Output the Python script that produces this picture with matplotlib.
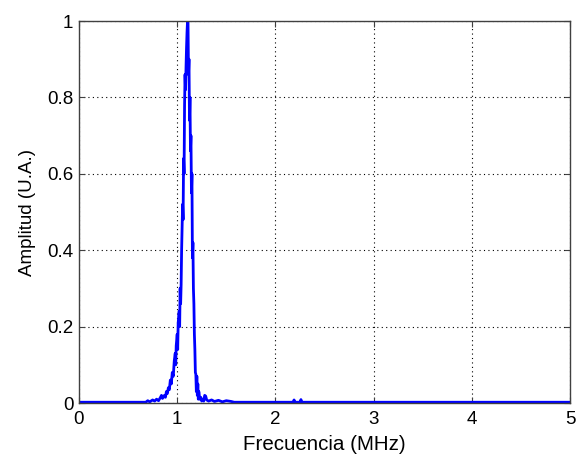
import matplotlib
matplotlib.use("Agg")
import matplotlib.pyplot as plt

freq_mhz = [0.0, 0.5, 0.68, 0.70, 0.72, 0.75, 0.77, 0.79, 0.81, 0.83, 0.84, 0.85,
            0.87, 0.88, 0.89, 0.90, 0.91, 0.92, 0.93, 0.94, 0.95, 0.96, 0.97, 0.98,
            0.985, 0.99, 1.00, 1.005, 1.01, 1.02, 1.025, 1.03, 1.035, 1.04, 1.045,
            1.05, 1.055, 1.06, 1.065, 1.07, 1.075, 1.08, 1.085, 1.09, 1.095, 1.10,
            1.105, 1.11, 1.115, 1.12, 1.125, 1.13, 1.135, 1.14, 1.145, 1.15, 1.155,
            1.16, 1.165, 1.17, 1.175, 1.18, 1.185, 1.19, 1.195, 1.20, 1.205, 1.21,
            1.215, 1.22, 1.23, 1.24, 1.25, 1.26, 1.27, 1.28, 1.29, 1.30, 1.32, 1.35,
            1.38, 1.42, 1.46, 1.50, 1.55, 1.58, 2.18, 2.19, 2.20, 2.25, 2.26, 2.27, 5.0]
amplitude = [0.002, 0.002, 0.002, 0.006, 0.003, 0.008, 0.005, 0.010, 0.006, 0.015, 0.020, 0.012,
             0.020, 0.015, 0.030, 0.025, 0.040, 0.035, 0.060, 0.050, 0.080, 0.070, 0.110, 0.130,
             0.100, 0.150, 0.180, 0.140, 0.210, 0.240, 0.200, 0.300, 0.260, 0.310, 0.400,
             0.460, 0.520, 0.480, 0.640, 0.600, 0.780, 0.860, 0.820, 0.880, 0.930, 0.970,
             1.000, 1.000, 0.860, 0.900, 0.740, 0.800, 0.660, 0.700, 0.550, 0.600, 0.380,
             0.420, 0.300, 0.260, 0.180, 0.140, 0.080, 0.075, 0.030, 0.070, 0.020, 0.050,
             0.010, 0.030, 0.010, 0.015, 0.005, 0.010, 0.005, 0.020, 0.018, 0.008, 0.005, 0.008,
             0.004, 0.007, 0.003, 0.006, 0.004, 0.002, 0.002, 0.008, 0.002, 0.002, 0.009, 0.002, 0.002]

x_ticks = [0, 1, 2, 3, 4, 5]
y_ticks = [0, 0.2, 0.4, 0.6, 0.8, 1]
y_tick_labels = ["0", "0.2", "0.4", "0.6", "0.8", "1"]

plt.rcParams['font.family'] = ['Liberation Sans', 'DejaVu Sans']

fig = plt.figure(figsize=(5.8, 4.58), dpi=100)
ax = fig.add_axes([79/580, 55/458, 491/580, 382/458])
ax.plot(freq_mhz, amplitude, color=(0, 0, 1), linewidth=2.0)
ax.set_xlim(0, 5)
ax.set_ylim(0, 1)
ax.set_xticks(x_ticks)
ax.set_yticks(y_ticks)
ax.set_yticklabels(y_tick_labels)
ax.grid(True, linestyle=(0, (1, 3)), color='black', linewidth=0.8)
ax.tick_params(direction='in', top=True, right=True, labelsize=13.5, length=4, width=0.8,
               colors='#404040', labelcolor='black')
ax.tick_params(axis='x', pad=6)
ax.tick_params(axis='y', pad=4)
for s in ax.spines.values():
    s.set_color('#404040')
    s.set_linewidth(1.0)
ax.set_xlabel('Frecuencia (MHz)', fontsize=14.8, labelpad=5)
ax.set_ylabel('Amplitud (U.A.)', fontsize=13.5, labelpad=8)
fig.savefig('out.png', dpi=100)
